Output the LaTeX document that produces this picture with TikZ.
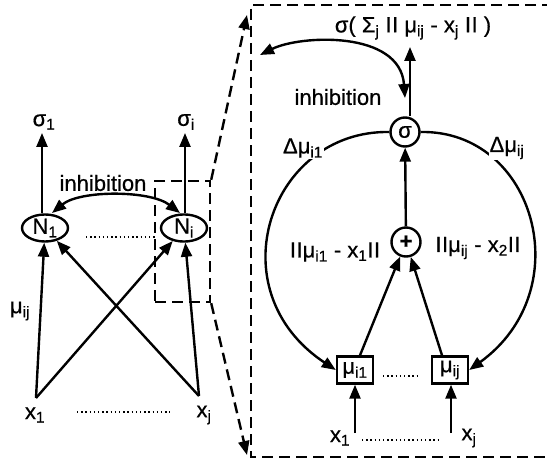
\documentclass[tikz,border=0pt]{standalone}
\usepackage{fontspec}
\setmainfont{Liberation Sans}[FakeBold=0.6]
\usetikzlibrary{arrows.meta,shapes.geometric,calc}
\newcommand{\sbs}[1]{\textsubscript{#1}}
\newcommand{\nb}{I\kern0.5ptI}
\begin{document}
\begin{tikzpicture}[x=1pt,y=-1pt,
  every node/.style={font=\fontsize{22}{25}\selectfont, inner sep=0pt},
  ln/.style={line width=2.4pt},
  arr/.style={ln,-{Triangle[length=14pt,width=11pt]}},
  darr/.style={ln,{Triangle[length=14pt,width=11pt]}-{Triangle[length=14pt,width=11pt]}},
  dotl/.style={line width=2.2pt, dash pattern=on 1.4pt off 2.8pt},
  dashl/.style={line width=2.4pt, dash pattern=on 11pt off 6pt},
  ell/.style={draw, ellipse, line width=2.4pt, minimum width=46pt, minimum height=27pt},
  circ/.style={draw, circle, line width=2.4pt, minimum size=29pt},
  sq/.style={draw, rectangle, line width=2.4pt, minimum width=36pt, minimum height=27pt}
]
\clip (0,0) rectangle (547,460);
\useasboundingbox (0,0) rectangle (547,460);

% ---------- left network ----------
\node[ell] (N1) at (45,228) {N\sbs{1}};
\node[ell] (Ni) at (184,228) {N\sbs{i}};
\node (s1) at (44,122) {σ\sbs{1}};
\node (si) at (186,122) {σ\sbs{i}};
\coordinate (s1t) at (42,133);
\coordinate (sit) at (185,133);
\draw[arr] (N1.north -| s1t) -- (s1t);
\draw[arr] (Ni.north -| sit) -- (sit);
\node (inhL) at (103,183) {inhibition};
\coordinate (ihA) at (52,213);
\coordinate (ihB) at (180,213);
\draw[darr] (ihA) .. controls (80,190) and (150,190) .. (ihB);
\draw[dotl] (86,237) -- (157,237);

\node (x1L) at (35,415) {x\sbs{1}};
\node (xjL) at (204,415) {x\sbs{j}};
\coordinate (x1t) at (36,398);
\coordinate (xjt) at (199,396);
\draw[arr] (x1t) -- (N1);
\draw[arr] (x1t) -- (Ni);
\draw[arr] (xjt) -- (N1);
\draw[arr] (xjt) -- (Ni);
\node (muL) at (20,311) {μ\sbs{ij}};
\draw[dotl] (77,412) -- (170,412);

% ---------- zoom box and pointers ----------
\node[draw, dashl, minimum width=55pt, minimum height=121pt] (zb) at (182.5,241.5) {};
\coordinate (zt) at (247,15);
\coordinate (zbt) at (247,455);
\draw[dashl, -{Triangle[length=14pt,width=11pt]}] (zb.north east) -- (zt);
\draw[dashl, -{Triangle[length=14pt,width=11pt]}] (zb.south east) -- (zbt);
\draw[dashl] (570,5) -- (251,5) -- (251,457) -- (570,457);

% ---------- detail ----------
\node[circ] (sig) at (405,132) {σ};
\node[circ] (plus) at (406,242) {\bfseries +};
\node[sq] (mu1) at (355,370) {μ\sbs{i1}};
\node[sq] (muj) at (450,370) {μ\sbs{ij}};
\draw[dotl] (383,376) -- (417,376);

\coordinate (outt) at (410,47);
\draw[arr] (sig.north -| outt) -- (outt);
\node (outL) at (413,28) {σ( Σ\sbs{j} \nb\ μ\sbs{ij} - x\sbs{j} \nb\ )};

\coordinate (inhT) at (405,98);
\coordinate (inhS) at (260,55);
\draw[darr] (inhS) .. controls (300,35) and (400,30) .. (inhT);
\node (inhR) at (338,97) {inhibition};

\draw[arr] (plus) -- (sig);
\draw[arr] ([xshift=5pt]mu1.north) -- (plus);
\draw[arr] ([xshift=-8pt]muj.north) -- (plus);
\node (n1L) at (335,252) {\nb μ\sbs{i1} - x\sbs{1}\nb};
\node (n2L) at (478,248) {\nb μ\sbs{ij} - x\sbs{2}\nb};

\draw[arr] (sig.west) .. controls (270,130) and (215,290) .. (mu1.west);
\draw[arr] (sig.east) .. controls (535,130) and (580,290) .. (muj.east);
\node[fill=white, inner sep=1pt] (d1L) at (303,148) {Δμ\sbs{i1}};
\node[fill=white, inner sep=1pt] (djL) at (507,148) {Δμ\sbs{ij}};

\node (rx1) at (340,438) {x\sbs{1}};
\node (rxj) at (469,438) {x\sbs{j}};
\coordinate (rx1t) at (355,433);
\coordinate (rxjt) at (451,433);
\draw[arr] (rx1t) -- (mu1.south -| rx1t);
\draw[arr] (rxjt) -- (muj.south -| rxjt);
\draw[dotl] (362,440) -- (440,440);
\end{tikzpicture}
\end{document}
